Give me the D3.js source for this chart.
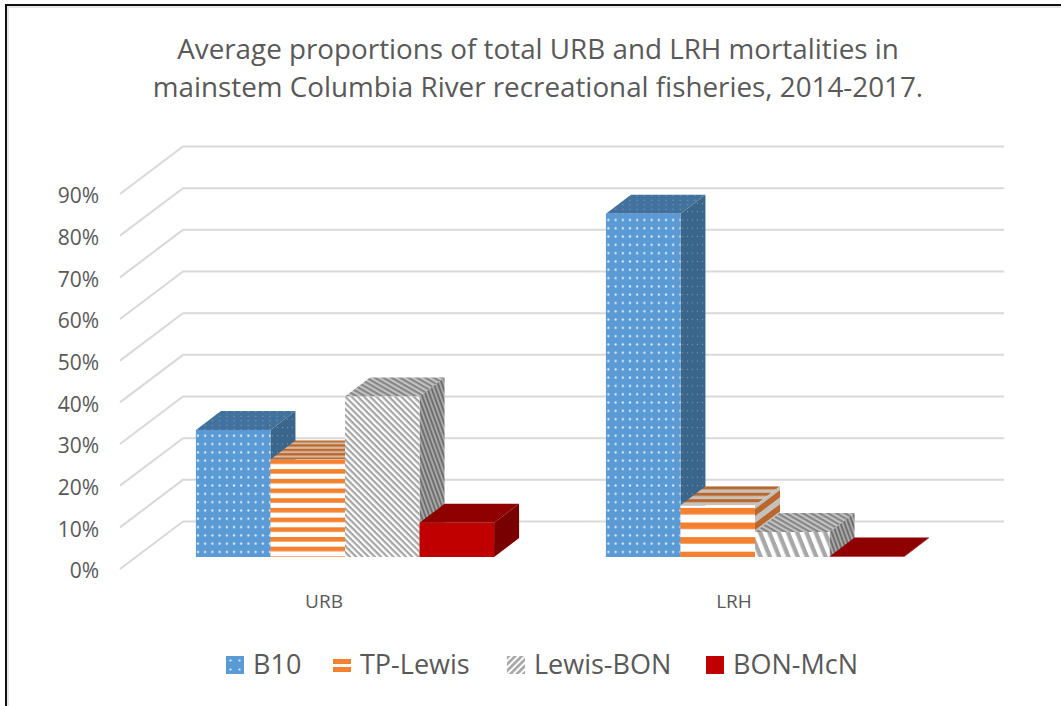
<!DOCTYPE html>
<html>
<head>
<meta charset="utf-8">
<script src="https://cdn.jsdelivr.net/npm/d3@7"></script>
<style>
  html, body { margin: 0; padding: 0; background: #fff; overflow: hidden; }
  text { font-family: "Open Sans", Lato, sans-serif; fill: #595959; }
</style>
</head>
<body>
<div id="chart"></div>
<script>
// values, as proportions
var categories = ["URB", "LRH"];
var seriesNames = ["B10", "TP-Lewis", "Lewis-BON", "BON-McN"];
var b10 = [30.5, 82.4];
var tpLewis = [23.4, 12.4];
var lewisBon = [38.5, 6.0];
var bonMcn = [8.2, 0.1];
var percentTicks = [0, 10, 20, 30, 40, 50, 60, 70, 80, 90];
var titleLines = [
  "Average proportions of total URB and LRH mortalities in",
  "mainstem Columbia River recreational fisheries, 2014-2017."
];

var seriesValues = [b10, tpLewis, lewisBon, bonMcn];

var svgWidth = 1061;
var svgHeight = 706;

var svg = d3.select("#chart")
  .append("svg")
  .attr("width", svgWidth)
  .attr("height", svgHeight);

var defs = svg.append("defs");

// fills for each series; darker versions are used for the top and side faces
function dotPattern(id, base, dot, w, h, r) {
  var p = defs.append("pattern")
    .attr("id", id)
    .attr("patternUnits", "userSpaceOnUse")
    .attr("width", w)
    .attr("height", h);
  p.append("rect").attr("width", w).attr("height", h).attr("fill", base);
  p.append("circle").attr("cx", w / 2).attr("cy", h / 2).attr("r", r).attr("fill", dot);
}

function stripePattern(id, base, stripe, h, stripeH, transform) {
  var p = defs.append("pattern")
    .attr("id", id)
    .attr("patternUnits", "userSpaceOnUse")
    .attr("width", 10)
    .attr("height", h)
    .attr("patternTransform", transform || null);
  p.append("rect").attr("width", 10).attr("height", h).attr("fill", base);
  p.append("rect").attr("width", 10).attr("height", stripeH).attr("fill", stripe);
}

function diagPattern(id, base, stripe, size, lineW, angle) {
  var p = defs.append("pattern")
    .attr("id", id)
    .attr("patternUnits", "userSpaceOnUse")
    .attr("width", size)
    .attr("height", size)
    .attr("patternTransform", `rotate(${angle})`);
  p.append("rect").attr("width", size).attr("height", size).attr("fill", base);
  p.append("rect").attr("width", size).attr("height", lineW).attr("fill", stripe);
}

dotPattern("b10Front", "#5b9bd5", "#e6f0f9", 7.2, 8.3, 1.1);
dotPattern("b10Top", "#41719c", "#7fa3c2", 7.2, 4.5, 0.7);
dotPattern("b10Side", "#3a668c", "#7396b3", 5, 8.3, 0.7);
dotPattern("b10Legend", "#5b9bd5", "#e6f0f9", 9, 9, 1.1);

stripePattern("tpFront0", "#ffffff", "#f4812f", 9.7, 4.6, "translate(0, 3.5)");
stripePattern("tpFront1", "#ffffff", "#f4812f", 14.6, 6.6, "translate(0, 11.5)");
stripePattern("tpTop0", "#d9b59b", "#b9672c", 4.4, 2.2);
stripePattern("tpTop1", "#c9c0b8", "#b9672c", 6.4, 3);
stripePattern("tpSide0", "#c4c0bb", "#b9672c", 14, 7, "skewY(-37)");
stripePattern("tpSide1", "#c4c0bb", "#b9672c", 14, 7, "skewY(-37)");

diagPattern("grayFront0", "#ffffff", "#a5a5a5", 4.4, 2.2, 45);
diagPattern("grayFront1", "#ffffff", "#a8a8a8", 8.6, 4.3, 68);
diagPattern("grayTop", "#c4c4c4", "#858585", 4.2, 2.1, 30);
diagPattern("graySide", "#a8a8a8", "#6f6f6f", 3.8, 1.9, 70);
diagPattern("grayLegend", "#ffffff", "#a5a5a5", 4.6, 2.6, -45);

var faces = [
  { front: ["url(#b10Front)", "url(#b10Front)"], top: ["url(#b10Top)", "url(#b10Top)"], side: ["url(#b10Side)", "url(#b10Side)"], legend: "url(#b10Legend)" },
  { front: ["url(#tpFront0)", "url(#tpFront1)"], top: ["url(#tpTop0)", "url(#tpTop1)"], side: ["url(#tpSide0)", "url(#tpSide1)"], legend: "#f4812f" },
  { front: ["url(#grayFront0)", "url(#grayFront1)"], top: ["url(#grayTop)", "url(#grayTop)"], side: ["url(#graySide)", "url(#graySide)"], legend: "url(#grayLegend)" },
  { front: ["#c00000", "#c00000"], top: ["#8f0000", "#8f0000"], side: ["#780000", "#780000"], legend: "#c00000" }
];

// the frame only shows on the top and left of the picture
svg.append("path")
  .attr("d", d3.line()([[8, svgHeight], [8, 7], [svgWidth, 7]]))
  .attr("fill", "none")
  .attr("stroke", "#e6e6e6")
  .attr("stroke-width", 2);

svg.append("path")
  .attr("d", d3.line()([[6, svgHeight], [6, 5], [svgWidth, 5]]))
  .attr("fill", "none")
  .attr("stroke", "#111")
  .attr("stroke-width", 2);

// title
svg.append("g").selectAll("text")
  .data(titleLines)
  .enter()
  .append("text")
  .attr("x", 538)
  .attr("y", (d, i) => 59 + i * 38)
  .attr("text-anchor", "middle")
  .attr("font-size", "27.8px")
  .text(d => d);

// y scale at the front of the floor
var yFront = d3.scaleLinear().domain([0, 90]).range([569, 194]);

// offset from front edge of the floor to back wall
var wallDx = 63;
var wallDy = -47.5;
var wallRight = 1004;

var gridGroup = svg.append("g");

gridGroup.selectAll("path")
  .data(percentTicks)
  .enter()
  .append("path")
  .attr("d", d => d3.line()([
    [120, yFront(d)],
    [120 + wallDx, yFront(d) + wallDy],
    [wallRight, yFront(d) + wallDy]
  ]))
  .attr("fill", "none")
  .attr("stroke", "#d9d9d9")
  .attr("stroke-width", 2);

// y axis labels
var yAxis = d3.axisLeft(yFront)
  .tickValues(percentTicks)
  .tickFormat(d => d + "%")
  .tickSize(0)
  .tickPadding(0);

var yAxisGroup = svg.append("g")
  .attr("transform", "translate(99, 2)")
  .call(yAxis);
yAxisGroup.select(".domain").remove();
yAxisGroup.selectAll("text")
  .attr("font-size", "21px")
  .style("font-family", "'Open Sans', sans-serif");

// bars
var xCategory = d3.scaleBand()
  .domain(categories)
  .range([140, 960]);

var xSeries = d3.scaleBand()
  .domain(seriesNames)
  .range([0, xCategory.bandwidth()])
  .paddingOuter(0.75);

// bars sit part way into the floor
var barBase = 557;
var barDx = 25;
var barDy = -19;
var barHeight = v => yFront(0) - yFront(v);

seriesNames.forEach(function(name, s) {
  var barGroup = svg.append("g").attr("class", "series");

  categories.forEach(function(cat, c) {
    var x0 = xCategory(cat) + xSeries(name);
    var x1 = x0 + xSeries.bandwidth();
    var yTop = barBase - barHeight(seriesValues[s][c]);
    var face = faces[s];

    barGroup.append("path")
      .attr("d", d3.line()([[x0, yTop], [x0 + barDx, yTop + barDy], [x1 + barDx, yTop + barDy], [x1, yTop]]) + "Z")
      .attr("fill", face.top[c]);

    barGroup.append("path")
      .attr("d", d3.line()([[x1, yTop], [x1 + barDx, yTop + barDy], [x1 + barDx, barBase + barDy], [x1, barBase]]) + "Z")
      .attr("fill", face.side[c]);

    barGroup.append("rect")
      .attr("x", x0)
      .attr("y", yTop)
      .attr("width", xSeries.bandwidth())
      .attr("height", barBase - yTop)
      .attr("fill", face.front[c]);
  });
});

// category labels
var xAxis = d3.axisBottom(xCategory).tickSize(0).tickPadding(0);
var xAxisGroup = svg.append("g")
  .attr("transform", "translate(-21, 594)")
  .call(xAxis);
xAxisGroup.select(".domain").remove();
xAxisGroup.selectAll("text")
  .attr("font-size", "19px")
  .style("font-family", "'Open Sans', sans-serif");

// legend
var legendSwatchX = [226, 333, 507, 706];
var legend = svg.append("g").selectAll("g")
  .data(seriesNames)
  .enter()
  .append("g")
  .attr("transform", (d, i) => `translate(${legendSwatchX[i]}, 656)`);

legend.filter(d => d !== "TP-Lewis")
  .append("rect")
  .attr("width", 18)
  .attr("height", 18)
  .attr("fill", d => faces[seriesNames.indexOf(d)].legend);

legend.filter(d => d === "TP-Lewis")
  .selectAll("rect")
  .data([3, 11])
  .enter()
  .append("rect")
  .attr("y", d => d)
  .attr("width", 18)
  .attr("height", 5)
  .attr("fill", "#f4812f");

legend.append("text")
  .attr("x", 27)
  .attr("y", 18)
  .attr("font-size", "27px")
  .text(d => d);
</script>
</body>
</html>
